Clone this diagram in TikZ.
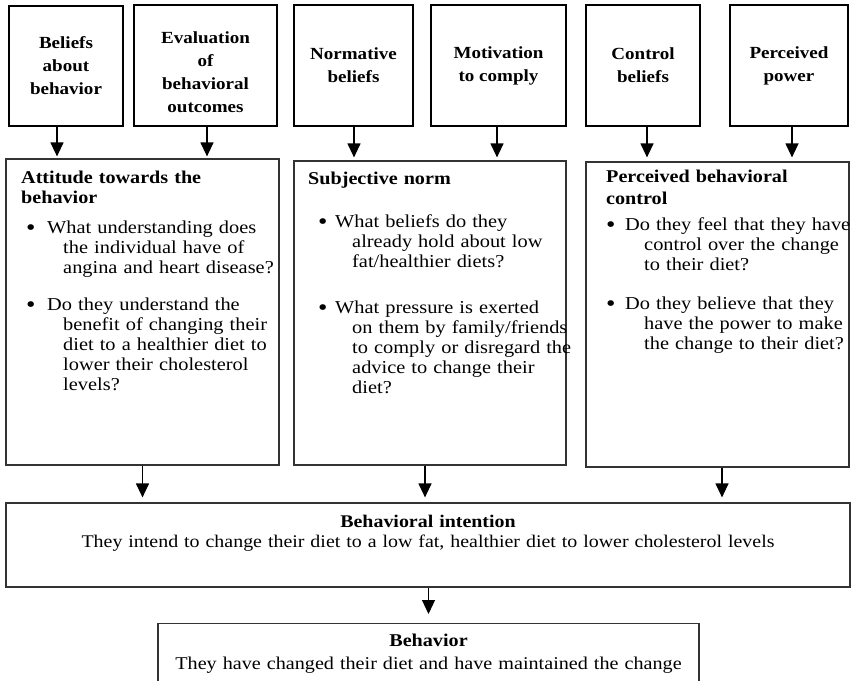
\documentclass[tikz,border=0pt]{standalone}
\usepackage{fontspec}
\setmainfont{Liberation Serif}[FakeStretch=1.12]
\usetikzlibrary{arrows.meta}
\newcommand{\itemdot}{\raisebox{-2.5pt}{\fontsize{24}{20}\selectfont\textbullet}}

\begin{document}
\begin{tikzpicture}[x=1pt,y=-1pt,
  topbox/.style={draw=black, line width=1.5pt, align=center, inner sep=0pt,
    font=\fontsize{17}{23}\selectfont\bfseries},
  toptext/.style={align=center, inner sep=0pt, font=\fontsize{17}{23}\selectfont\bfseries},
  panel/.style={draw=black!80, line width=1.2pt, inner sep=0pt},
  headtext/.style={anchor=base west, inner sep=0pt, text width=270pt, align=left,
    font=\fontsize{18}{20}\selectfont\bfseries},
  itemtext/.style={anchor=base west, inner sep=0pt, text width=300pt, align=left,
    font=\fontsize{18.2}{20}\selectfont},
  wideText/.style={anchor=base, inner sep=0pt, align=center},
  flow/.style={line width=1.2pt, -{Triangle[width=13pt,length=14pt]}},
]
\useasboundingbox (0,0) rectangle (851,680);
\clip (0,0) rectangle (851,680);

% ---- top row: belief boxes ----
\node[topbox, minimum width=114pt, minimum height=120pt] (b1) at (66,66) {Beliefs\\about\\behavior};
\node[topbox, minimum width=143pt, minimum height=121pt] (b2) at (205.5,65.5) {};
\node[toptext] (b2txt) at ([yshift=-7pt]b2.center) {Evaluation\\of\\behavioral\\outcomes};
\node[topbox, minimum width=119pt, minimum height=121pt] (b3) at (353.5,65.5) {Normative\\beliefs};
\node[topbox, minimum width=135pt, minimum height=121pt] (b4) at (498.5,65.5) {Motivation\\to comply};
\node[topbox, minimum width=114pt, minimum height=121pt] (b5) at (643,65.5) {Control\\beliefs};
\node[topbox, minimum width=118pt, minimum height=121pt] (b6) at (789,65.5) {Perceived\\power};

% ---- middle row: the three determinants ----
\node[panel, minimum width=273pt, minimum height=306pt] (att) at (142.5,312) {};
\node[panel, minimum width=272pt, minimum height=304pt] (sub) at (430,313) {};
\node[panel, minimum width=263pt, minimum height=305pt] (per) at (717.5,314.5) {};

\node[headtext] (atthead) at (21,183) {Attitude towards the\\behavior};
\node[itemtext] (attone) at (26,233) {\makebox[21pt][l]{\itemdot}What understanding does\\
  \hspace*{37pt}the individual have of\\
  \hspace*{37pt}angina and heart disease?};
\node[itemtext] (atttwo) at (26,310) {\makebox[21pt][l]{\itemdot}Do they understand the\\
  \hspace*{37pt}benefit of changing their\\
  \hspace*{37pt}diet to a healthier diet to\\
  \hspace*{37pt}lower their cholesterol\\
  \hspace*{37pt}levels?};

\node[headtext] (subhead) at (308,184) {Subjective norm};
\node[itemtext] (subone) at (318,227) {\makebox[17pt][l]{\itemdot}What beliefs do they\\
  \hspace*{34pt}already hold about low\\
  \hspace*{34pt}fat/healthier diets?};
\node[itemtext] (subtwo) at (318,313) {\makebox[17pt][l]{\itemdot}What pressure is exerted\\
  \hspace*{34pt}on them by family/friends\\
  \hspace*{34pt}to comply or disregard the\\
  \hspace*{34pt}advice to change their\\
  \hspace*{34pt}diet?};

\node[headtext, font=\fontsize{18}{22}\selectfont\bfseries] (perhead) at (606,182) {Perceived behavioral\\control};
\node[itemtext] (perone) at (606,230) {\makebox[19pt][l]{\itemdot}Do they feel that they have\\
  \hspace*{38pt}control over the change\\
  \hspace*{38pt}to their diet?};
\node[itemtext] (pertwo) at (606,309) {\makebox[19pt][l]{\itemdot}Do they believe that they\\
  \hspace*{38pt}have the power to make\\
  \hspace*{38pt}the change to their diet?};

% ---- intention and behaviour ----
\node[panel, minimum width=844pt, minimum height=84pt] (int) at (428,545) {};
\node[wideText, text width=830pt, font=\fontsize{17.8}{20}\selectfont] (inttxt) at (428,527)
  {\textbf{Behavioral intention}\\They intend to change their diet to a low fat, healthier diet to lower cholesterol levels};

\node[panel, minimum width=541pt, minimum height=80pt, anchor=north] (beh) at (428.5,623) {};
\node[wideText, text width=530pt, font=\fontsize{18}{23}\selectfont] (behtxt) at (428.5,646)
  {\textbf{Behavior}\\They have changed their diet and have maintained the change};

% ---- connectors ----
\coordinate (s1) at ([xshift=-9pt]b1.south);
\coordinate (s2) at ([xshift=1.5pt]b2.south);
\coordinate (s3) at ([xshift=0.5pt]b3.south);
\coordinate (s4) at ([xshift=-1.5pt]b4.south);
\coordinate (s5) at ([xshift=4pt]b5.south);
\coordinate (s6) at ([xshift=3pt]b6.south);
\draw[flow, shorten >=2pt] (s1) -- (s1 |- att.north);
\draw[flow, shorten >=2pt] (s2) -- (s2 |- att.north);
\draw[flow, shorten >=3pt] (s3) -- (s3 |- sub.north);
\draw[flow, shorten >=3pt] (s4) -- (s4 |- sub.north);
\draw[flow, shorten >=4pt] (s5) -- (s5 |- per.north);
\draw[flow, shorten >=4pt] (s6) -- (s6 |- per.north);

\coordinate (m1) at (att.south);
\coordinate (m2) at ([xshift=-5pt]sub.south);
\coordinate (m3) at ([xshift=4.5pt]per.south);
\draw[flow, shorten >=5pt] (m1) -- (m1 |- int.north);
\draw[flow, shorten >=5pt] (m2) -- (m2 |- int.north);
\draw[flow, shorten >=5pt] (m3) -- (m3 |- int.north);

\draw[flow, shorten >=9pt] (int.south -| beh.north) -- (beh.north);
\end{tikzpicture}
\end{document}
